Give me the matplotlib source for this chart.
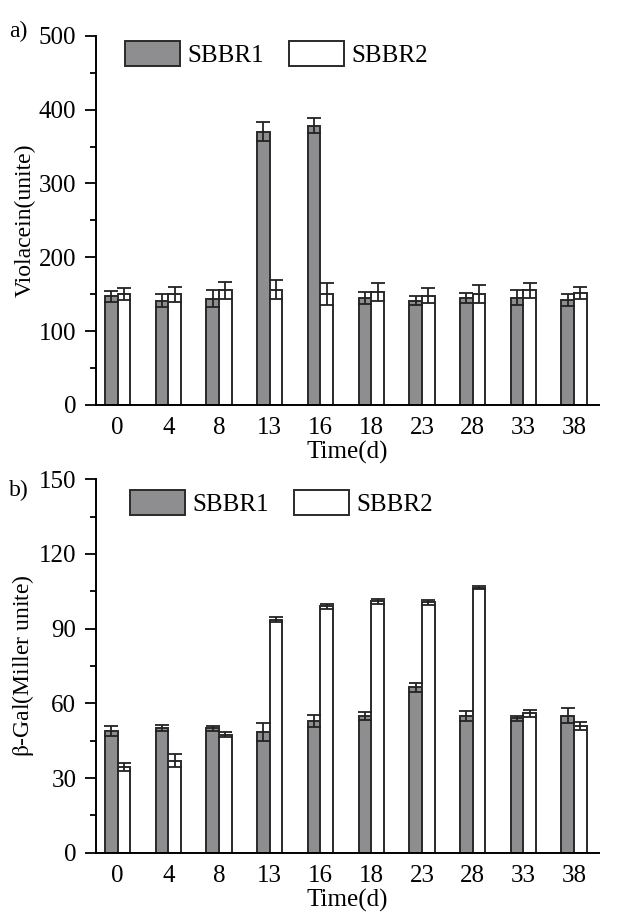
import matplotlib
matplotlib.use("Agg")
import matplotlib.pyplot as plt
import numpy as np
from matplotlib.ticker import MultipleLocator

plt.rcParams['font.family'] = ['Liberation Serif', 'DejaVu Serif']
plt.rcParams['mathtext.fontset'] = 'stix'

days = ['0', '4', '8', '13', '16', '18', '23', '28', '33', '38']

vio_r1 = [147, 141, 144, 370, 378, 145, 141, 145, 145, 142]
vio_r1_err = [7, 9, 11, 13, 10, 8, 6, 7, 10, 8]
vio_r2 = [150, 150, 155, 156, 150, 153, 148, 150, 155, 151]
vio_r2_err = [8, 10, 12, 13, 15, 12, 10, 12, 10, 8]

gal_r1 = [49, 50, 50, 48.5, 53, 55, 66.5, 55, 54, 55]
gal_r1_err = [2, 1.2, 1, 3.5, 2.5, 1.5, 1.8, 2, 1, 3]
gal_r2 = [34.5, 37, 47.5, 93.5, 99, 101, 100.5, 106.5, 56, 51]
gal_r2_err = [1.5, 2.5, 1, 1, 1, 1, 1, 0.5, 1.5, 1.5]

gray = '#8e8e90'
edge = '#2a2a2a'
w = 0.25

fig = plt.figure(figsize=(6.18, 9.18), dpi=100)
ax1 = fig.add_axes([0.155, 0.559, 0.815, 0.402])
ax2 = fig.add_axes([0.155, 0.071, 0.815, 0.407])

x = np.arange(len(days))


def draw(ax, r1, e1, r2, e2, ymax, major, ylabel, leg_x, leg_y):
    ekw = dict(elinewidth=1.3, capthick=1.3, ecolor='#222222')
    ax.bar(x - w / 2, r1, w, yerr=e1, capsize=5, color=gray, edgecolor=edge,
           linewidth=1.4, error_kw=ekw, label='SBBR1')
    ax.bar(x + w / 2, r2, w, yerr=e2, capsize=5, color='white', edgecolor=edge,
           linewidth=1.4, error_kw=ekw, label='SBBR2')
    ax.set_xlim(-0.43, 9.5)
    ax.set_ylim(0, ymax)
    ax.set_xticks(x)
    ax.set_xticklabels(days)
    ax.yaxis.set_major_locator(MultipleLocator(major))
    ax.yaxis.set_minor_locator(MultipleLocator(major / 2))
    ax.tick_params(axis='y', which='major', direction='out', length=8, width=1.3,
                   labelsize=18, pad=6)
    ax.tick_params(axis='y', which='minor', direction='out', length=4, width=1.3)
    ax.tick_params(axis='x', length=0, labelsize=18, pad=9)
    for s in ['top', 'right']:
        ax.spines[s].set_visible(False)
    for s in ['left', 'bottom']:
        ax.spines[s].set_linewidth(1.4)
    ax.set_xlabel('Time(d)', fontsize=18, labelpad=1)
    ax.set_ylabel(ylabel, fontsize=17, labelpad=2)
    ax.legend(loc='upper left', bbox_to_anchor=(leg_x, leg_y), ncol=2, frameon=False,
              fontsize=18, handlelength=2.2, handleheight=1.15, columnspacing=1.0,
              handletextpad=0.3, borderaxespad=0)


draw(ax1, vio_r1, vio_r1_err, vio_r2, vio_r2_err, 500, 100, 'Violacein(unite)',
     0.038, 1.012)
draw(ax2, gal_r1, gal_r1_err, gal_r2, gal_r2_err, 150, 30,
     r'$\mathrm{\beta}$-Gal(Miller unite)', 0.048, 0.997)

fig.text(0.015, 0.960, 'a)', fontsize=17)
fig.text(0.015, 0.460, 'b)', fontsize=17)

fig.savefig('out.png', dpi=100)
